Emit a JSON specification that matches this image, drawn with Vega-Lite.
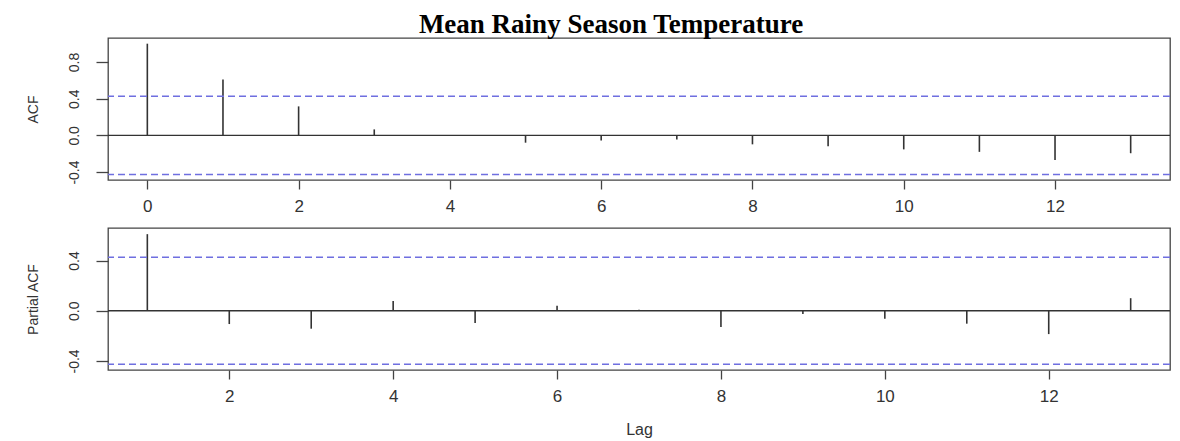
{
  "$schema": "https://vega.github.io/schema/vega-lite/v6.json",
  "background": "white",
  "padding": {"left": 25, "top": 11, "right": 3, "bottom": 0},
  "title": {"text": "Mean Rainy Season Temperature", "font": "Liberation Serif", "fontWeight": "bold", "fontSize": 27, "color": "#000000", "anchor": "middle", "frame": "group", "baseline": "bottom", "offset": -29, "dx": -28},
  "bounds": "flush",
  "spacing": 48,
  "config": {
    "view": {"stroke": "#444444", "strokeWidth": 1.3},
    "axis": {"domain": false, "grid": false, "tickColor": "#444444", "tickWidth": 1.3, "labelFont": "Liberation Sans", "labelColor": "#333333", "titleFont": "Liberation Sans", "titleFontWeight": "normal", "titleColor": "#333333"}
  },
  "datasets": {
    "acf": [
      {"lag": 0, "value": 1.0}, {"lag": 1, "value": 0.61}, {"lag": 2, "value": 0.316}, {"lag": 3, "value": 0.065},
      {"lag": 4, "value": 0.005}, {"lag": 5, "value": -0.08}, {"lag": 6, "value": -0.055}, {"lag": 7, "value": -0.044},
      {"lag": 8, "value": -0.098}, {"lag": 9, "value": -0.12}, {"lag": 10, "value": -0.153}, {"lag": 11, "value": -0.18},
      {"lag": 12, "value": -0.27}, {"lag": 13, "value": -0.195}
    ],
    "pacf": [
      {"lag": 1, "value": 0.61}, {"lag": 2, "value": -0.106}, {"lag": 3, "value": -0.143}, {"lag": 4, "value": 0.077},
      {"lag": 5, "value": -0.098}, {"lag": 6, "value": 0.04}, {"lag": 7, "value": 0.008}, {"lag": 8, "value": -0.13},
      {"lag": 9, "value": -0.026}, {"lag": 10, "value": -0.064}, {"lag": 11, "value": -0.103}, {"lag": 12, "value": -0.186},
      {"lag": 13, "value": 0.1}
    ],
    "ci": [{"ci": 0.426}, {"ci": -0.426}]
  },
  "vconcat": [
    {
      "width": 1062,
      "height": 142,
      "layer": [
        {
          "data": {"name": "acf"},
          "mark": {"type": "rule", "color": "#333333", "strokeWidth": 1.6},
          "encoding": {
            "x": {"field": "lag", "type": "quantitative", "scale": {"domain": [-0.52, 13.52], "nice": false, "zero": false},
                  "axis": {"values": [0, 2, 4, 6, 8, 10, 12], "tickSize": 9, "labelPadding": 9, "labelFontSize": 17, "title": null}},
            "y": {"field": "value", "type": "quantitative", "scale": {"domain": [-0.487, 1.062], "nice": false, "zero": false},
                  "axis": {"values": [-0.4, -0.2, 0, 0.2, 0.4, 0.6, 0.8, 1.0], "tickSize": 12, "labelAngle": -90, "labelAlign": "center", "labelBaseline": "bottom", "labelPadding": 15, "labelFontSize": 14,
                           "labelExpr": "round(datum.value * 10) % 4 == 0 ? (datum.value < -0.001 ? '-' : '') + format(abs(datum.value), '.1f') : ''",
                           "title": "ACF", "titleFontSize": 14, "titlePadding": 27}},
            "y2": {"datum": 0}
          }
        },
        {
          "data": {"values": [{}]},
          "mark": {"type": "rule", "color": "#333333", "strokeWidth": 1.3},
          "encoding": {"y": {"datum": 0}}
        },
        {
          "data": {"name": "ci"},
          "mark": {"type": "rule", "color": "#6f6fe0", "strokeWidth": 1.5, "strokeDash": [7, 4]},
          "encoding": {"y": {"field": "ci", "type": "quantitative"}}
        }
      ]
    },
    {
      "width": 1062,
      "height": 142,
      "layer": [
        {
          "data": {"name": "pacf"},
          "mark": {"type": "rule", "color": "#333333", "strokeWidth": 1.6},
          "encoding": {
            "x": {"field": "lag", "type": "quantitative", "scale": {"domain": [0.52, 13.48], "nice": false, "zero": false},
                  "axis": {"values": [2, 4, 6, 8, 10, 12], "tickSize": 9, "labelPadding": 9, "labelFontSize": 17, "title": "Lag", "titleFontSize": 16, "titlePadding": 17}},
            "y": {"field": "value", "type": "quantitative", "scale": {"domain": [-0.472, 0.659], "nice": false, "zero": false},
                  "axis": {"values": [-0.4, -0.2, 0, 0.2, 0.4, 0.6], "tickSize": 12, "labelAngle": -90, "labelAlign": "center", "labelBaseline": "bottom", "labelPadding": 15, "labelFontSize": 14,
                           "labelExpr": "round(datum.value * 10) % 4 == 0 ? (datum.value < -0.001 ? '-' : '') + format(abs(datum.value), '.1f') : ''",
                           "title": "Partial ACF", "titleFontSize": 14, "titlePadding": 27}},
            "y2": {"datum": 0}
          }
        },
        {
          "data": {"values": [{}]},
          "mark": {"type": "rule", "color": "#333333", "strokeWidth": 1.3},
          "encoding": {"y": {"datum": 0}}
        },
        {
          "data": {"name": "ci"},
          "mark": {"type": "rule", "color": "#6f6fe0", "strokeWidth": 1.5, "strokeDash": [7, 4]},
          "encoding": {"y": {"field": "ci", "type": "quantitative"}}
        }
      ]
    }
  ]
}
